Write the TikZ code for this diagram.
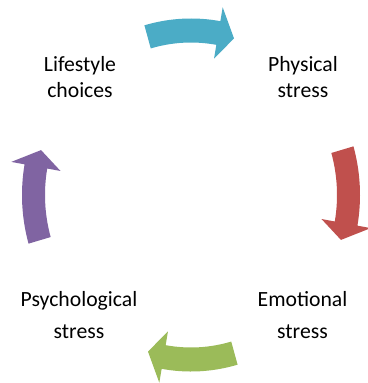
\documentclass[tikz,border=0pt]{standalone}
\usepackage{fontspec}
\newfontfamily\labelfont{Carlito}
\definecolor{cycblue}{HTML}{4BACC6}
\definecolor{cycred}{HTML}{C0504D}
\definecolor{cycgreen}{HTML}{9BBB59}
\definecolor{cycpurple}{HTML}{8064A2}
\setlength{\tabcolsep}{0pt}
% curved block arrow on the cycle; #1 = direction of its middle, #2 = colour
\newcommand{\cyclearrow}[2]{%
  \fill[#2] (#1-16:146) arc[start angle=#1-16, end angle=#1+10, radius=146]
    -- (#1+10:132.5) -- (#1+16:156) -- (#1+10:182.5) -- (#1+10:169)
    arc[start angle=#1+10, end angle=#1-16, radius=169] -- cycle;}
\begin{document}
\begin{tikzpicture}[x=1pt, y=-1pt,
  toplabel/.style={inner sep=0pt, anchor=base, text=black,
    font=\labelfont\fontsize{21.7}{26}\selectfont},
  bottomlabel/.style={inner sep=0pt, anchor=base, text=black,
    font=\labelfont\fontsize{21.7}{32.5}\selectfont}]
\useasboundingbox[fill=white] (0,0) rectangle (367,383);
% the four arrows, running clockwise round the centre
\begin{scope}[shift={(191,195)}, yscale=1.0444]
  \cyclearrow{-90}{cycblue}
  \cyclearrow{0}{cycred}
  \cyclearrow{90}{cycgreen}
  \cyclearrow{180}{cycpurple}
\end{scope}
% labels
\node[toplabel] (life) at (80,71) {\begin{tabular}[t]{c}Lifestyle\\choices\end{tabular}};
\node[toplabel] (phys) at (303,71) {\begin{tabular}[t]{c}Physical\\stress\end{tabular}};
\node[bottomlabel] (emot) at (302.5,306) {\begin{tabular}[t]{c}Emotional\\stress\end{tabular}};
\node[bottomlabel] (psych) at (79,306) {\begin{tabular}[t]{c}Psychological\\stress\end{tabular}};
\end{tikzpicture}
\end{document}
